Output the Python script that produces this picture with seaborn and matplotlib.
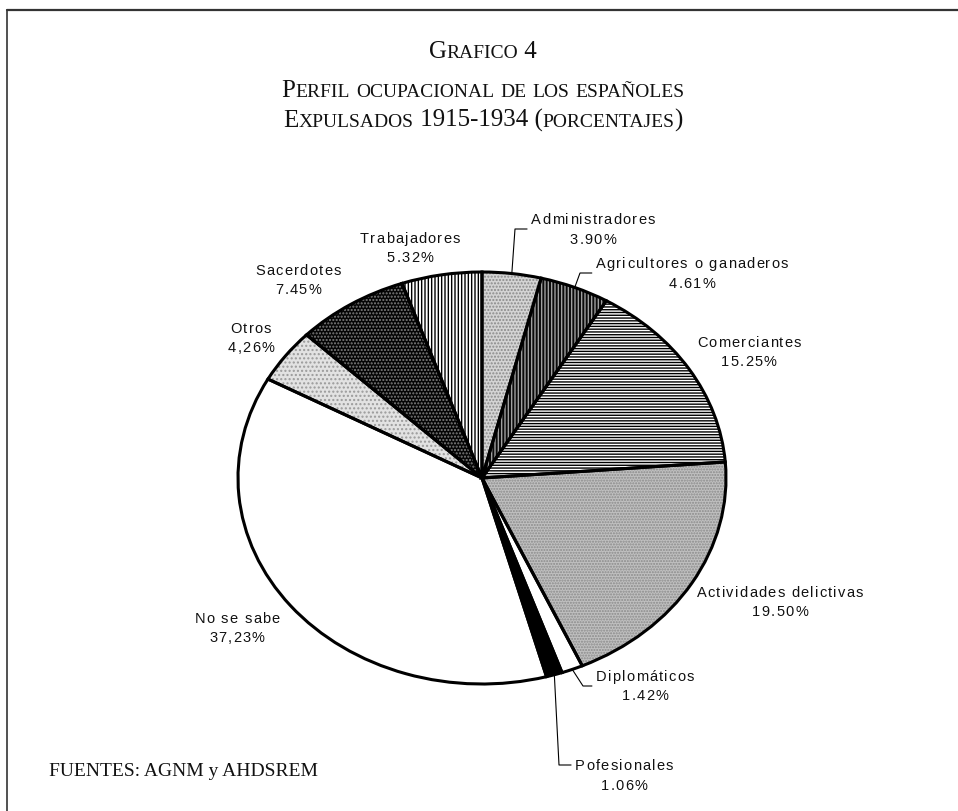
import numpy as np
import matplotlib
matplotlib.use('Agg')
import matplotlib.pyplot as plt
import seaborn as sns
from matplotlib.lines import Line2D
from matplotlib.transforms import IdentityTransform

# --- datos ---
categorias = ['Administradores', 'Agricultores o ganaderos', 'Comerciantes',
              'Actividades delictivas', 'Diplomáticos', 'Pofesionales',
              'No se sabe', 'Otros', 'Sacerdotes', 'Trabajadores']
porcentajes = [3.90, 4.61, 15.25, 19.50, 1.42, 1.06, 37.23, 4.26, 7.45, 5.32]
etiquetas_pct = ['3.90%', '4.61%', '15.25%', '19.50%', '1.42%', '1.06%',
                 '37,23%', '4,26%', '7.45%', '5.32%']

# estilo de cada sector (relleno, trama, color de trama)
rellenos = ['#d4d4d4', '#0a0a0a', 'white', '#c0c0c0', 'white', 'black',
            'white', '#e2e2e2', '#050505', 'white']
tramas = ['.....', '|||||', '------', '......', None, None, None, '....', '.....', '|||||']
color_trama = ['#8a8a8a', '#a0a0a0', 'black', '#8a8a8a', 'black', 'black',
               'black', '#9a9a9a', '#808080', 'black']

# centro x y linea base de la primera linea de cada etiqueta (pixeles, origen arriba)
pos_texto = [(593, 224), (692, 268), (749, 347), (780, 597), (645, 681),
             (624, 770), (237, 623), (251, 333), (298, 275), (410, 243)]
# esquina de la linea guia (o None)
esquina = [(515, 229), (580, 273), None, None, (583, 686),
           (559, 765), None, None, None, None]

W, H = 958, 811
sns.set_theme(style='white')
plt.rcParams['font.family'] = ['Liberation Sans', 'DejaVu Sans']
plt.rcParams['hatch.linewidth'] = 1.0

fig = plt.figure(figsize=(W / 100, H / 100), dpi=100)
fig.patch.set_facecolor('white')
renderer = fig.canvas.get_renderer()

# pastel eliptico
cx, cy, rx, ry = 482, 478, 244, 206
ax = fig.add_axes([(cx - rx) / W, (H - cy - ry) / H, 2 * rx / W, 2 * ry / H])

# primera pasada: rellenos y tramas
wedges, _ = ax.pie(porcentajes, startangle=90, counterclock=False, radius=1,
                   wedgeprops=dict(linewidth=0, clip_on=False))
for w, fc, h, hc in zip(wedges, rellenos, tramas, color_trama):
    w.set_facecolor(fc)
    w.set_edgecolor(hc)
    if h:
        w.set_hatch(h)

# segunda pasada: contornos
ax.pie(porcentajes, startangle=90, counterclock=False, radius=1,
       wedgeprops=dict(facecolor='none', edgecolor='black', linewidth=2.2,
                       clip_on=False))
ax.set_aspect('auto')
ax.set_xlim(-1, 1)
ax.set_ylim(-1, 1)
ax.axis('off')

_anchos = {}


def ancho(ch, size, family):
    key = (ch, size, family)
    if key not in _anchos:
        t1 = fig.text(0, 0, '|' + ch + '|', fontsize=size, family=family)
        t2 = fig.text(0, 0, '||', fontsize=size, family=family)
        _anchos[key] = t1.get_window_extent(renderer).width - t2.get_window_extent(renderer).width
        t1.remove()
        t2.remove()
    return _anchos[key]


def texto_espaciado(s, xc, base, size=10.5, track=1.25, family='Liberation Sans'):
    anchos = [ancho(c, size, family) for c in s]
    total = sum(anchos) + track * (len(s) - 1)
    x = xc - total / 2
    for c, wd in zip(s, anchos):
        if c != ' ':
            fig.text(x, H - base, c, fontsize=size, family=family, color='#111111',
                     ha='left', va='baseline', transform=IdentityTransform())
        x += wd + track
    return xc - total / 2


# etiquetas
for w, cat, pct, (tx, base), esq in zip(wedges, categorias, etiquetas_pct, pos_texto, esquina):
    izq = texto_espaciado(cat, tx, base)
    texto_espaciado(pct, tx, base + 19.5)
    if esq is not None:
        mid = np.deg2rad((w.theta1 + w.theta2) / 2)
        px, py = ax.transData.transform((np.cos(mid), np.sin(mid)))
        ex, ey = esq
        fig.add_artist(Line2D([px, ex, izq - 4], [py, H - ey, H - ey],
                              transform=IdentityTransform(), color='black', lw=0.8))


# titulo en versalitas
def versalitas(texto, xc, base, grande=18, chica=14):
    runs = []
    for ch in texto:
        size = chica if ch.islower() else grande
        if runs and runs[-1][1] == size:
            runs[-1][0] += ch.upper()
        else:
            runs.append([ch.upper(), size])
    objs = []
    for s, size in runs:
        t = fig.text(0, 0, s, fontsize=size, family='Liberation Serif', color='#111111',
                     ha='left', va='baseline', transform=IdentityTransform())
        objs.append((t, t.get_window_extent(renderer).width))
    total = sum(wd for _, wd in objs)
    x = xc - total / 2
    for t, wd in objs:
        t.set_position((x, H - base))
        x += wd


versalitas('Grafico 4', 483, 58)
versalitas('Perfil ocupacional de los españoles', 483, 97)
versalitas('Expulsados 1915-1934 (porcentajes)', 483, 127)

fig.text(49 / W, 1 - 776 / H, 'FUENTES: AGNM y AHDSREM', fontsize=14,
         family='Liberation Serif', color='#111111', ha='left', va='baseline')

# marco
fig.add_artist(Line2D([7, W], [H - 10, H - 10], transform=IdentityTransform(),
                      color='#333333', lw=1.6))
fig.add_artist(Line2D([7, 7], [0, H - 10], transform=IdentityTransform(),
                      color='#333333', lw=1.2))

fig.savefig('out.png', dpi=100, facecolor='white')
